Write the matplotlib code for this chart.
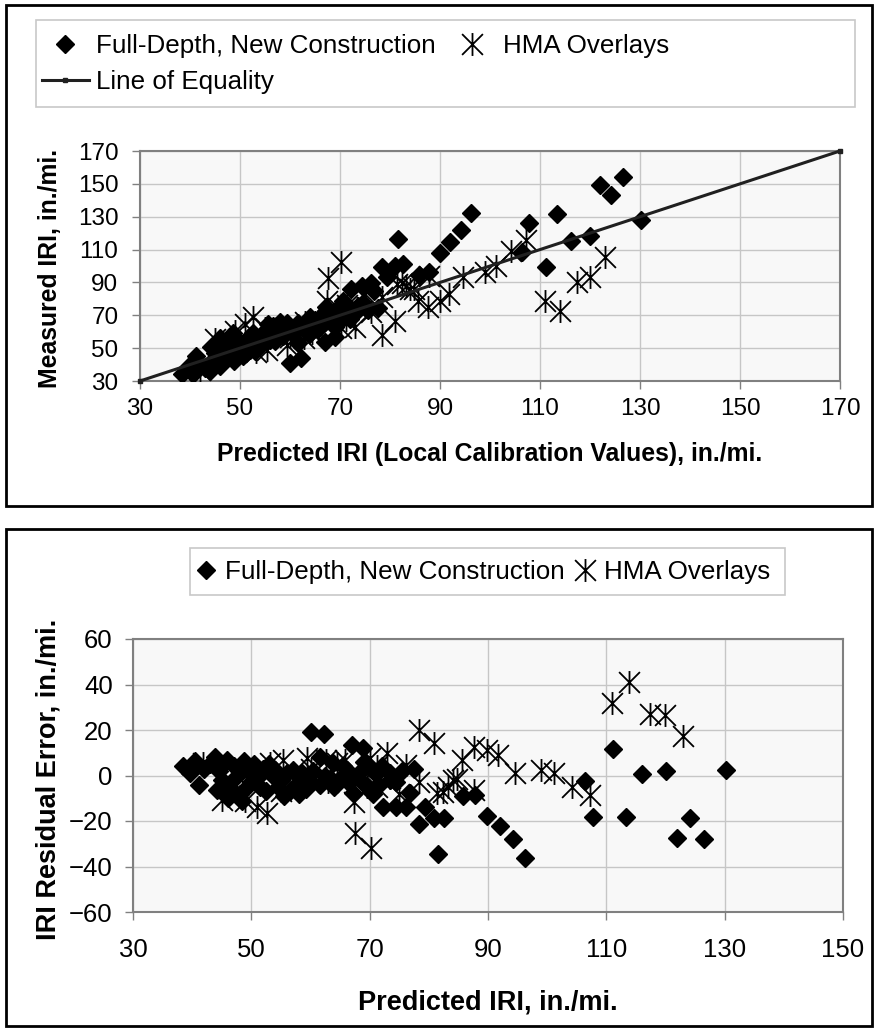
import numpy as np
import matplotlib
matplotlib.use("Agg")
import matplotlib.pyplot as plt
from matplotlib.path import Path
from matplotlib.patches import Rectangle

plt.rcParams["font.family"] = ["Liberation Sans", "DejaVu Sans"]

# Full-depth, new construction sections: predicted and measured IRI (in./mi.)
fd_pred = [130.2, 126.5, 122.0, 124.2, 120.0, 116.1, 113.4, 111.2, 107.7, 106.4,
           96.2, 94.2, 92.0, 89.9, 87.8, 85.7, 81.6, 78.4, 80.9, 82.5,
           79.3, 76.1, 74.4, 72.2, 76.8, 73.5, 73.4, 62.2, 60.0, 67.0,
           68.9, 66.1, 67.2, 69.5, 70.5, 63.8, 61.6, 71.0, 72.0, 70.0,
           69.0, 65.0, 64.0, 61.6, 59.3, 57.6, 58.5, 60.5, 62.5, 63.5,
           66.5, 68.0, 56.6, 55.5, 54.5, 53.7, 55.0, 56.0, 57.0, 38.4,
           39.6, 40.5, 41.2, 42.0, 43.0, 43.9, 44.5, 45.0, 45.9, 46.5,
           47.0, 47.5, 48.0, 48.7, 48.5, 49.5, 50.0, 50.5, 51.0, 51.5,
           52.0, 52.5, 46.0, 44.2, 49.0, 53.0, 54.0, 74.5, 75.5, 77.5,
           71.5, 68.5, 65.5, 58.0, 60.0]
fd_meas = [127.7, 154.3, 149.5, 143.0, 118.0, 115.3, 131.6, 99.4, 125.9, 108.6,
           132.5, 122.0, 114.4, 107.8, 96.5, 94.5, 116.2, 99.6, 99.8, 101.3,
           93.1, 89.8, 88.1, 86.0, 84.6, 75.5, 72.4, 43.8, 40.8, 53.6,
           56.9, 63.7, 75.0, 74.5, 78.5, 58.5, 53.4, 70.5, 68.0, 66.5,
           63.0, 67.0, 69.0, 65.6, 65.3, 61.6, 57.5, 58.5, 62.5, 65.0,
           70.0, 69.0, 63.6, 64.5, 59.5, 53.7, 57.0, 55.0, 54.5, 34.1,
           38.5, 34.0, 45.4, 39.0, 38.0, 35.9, 42.5, 47.0, 38.9, 52.5,
           43.0, 47.5, 56.0, 42.2, 59.5, 47.5, 53.0, 45.5, 52.0, 56.4,
           49.0, 59.5, 56.0, 50.7, 55.0, 48.0, 51.5, 77.5, 73.5, 74.5,
           75.5, 66.5, 61.5, 66.0, 63.0]

# HMA overlay sections: predicted and measured IRI (in./mi.)
hma_pred = [113.9, 111.0, 117.3, 119.9, 122.9, 107.2, 104.2, 101.2, 98.9, 94.6,
            91.7, 89.9, 87.6, 85.6, 87.7, 84.8, 83.2, 81.3, 82.4, 84.0,
            80.9, 78.3, 76.1, 78.4, 72.9, 73.4, 71.3, 71.2, 70.1, 67.3,
            67.5, 70.2, 65.8, 64.4, 62.7, 59.4, 55.4, 53.2, 52.6, 50.9,
            48.9, 45.0, 41.9, 46.5, 47.0, 60.0, 57.0, 55.0, 63.0, 68.5,
            69.5, 75.0]
hma_meas = [72.7, 79.0, 90.3, 93.4, 105.6, 115.8, 109.2, 100.0, 96.3, 93.6,
            82.9, 78.7, 74.9, 78.8, 94.1, 86.3, 88.1, 89.1, 89.5, 86.0,
            66.7, 58.3, 71.7, 81.1, 62.9, 74.4, 76.5, 67.2, 62.5, 78.8,
            92.9, 102.2, 59.0, 59.0, 55.9, 51.8, 48.6, 47.8, 69.0, 64.6,
            60.2, 55.8, 36.5, 50.5, 46.0, 57.0, 59.0, 62.0, 66.0, 69.5,
            74.5, 83.0]

equality = [30, 170]
top_ticks = [30, 50, 70, 90, 110, 130, 150, 170]
bot_xticks = [30, 50, 70, 90, 110, 130, 150]
bot_yticks = [-60, -40, -20, 0, 20, 40, 60]

# residual = predicted - measured
fd_res = np.array(fd_pred) - np.array(fd_meas)
hma_res = np.array(hma_pred) - np.array(hma_meas)

# Excel style "star" marker: X with a vertical bar
STAR = Path([(-1, -1), (1, 1), (-1, 1), (1, -1), (0, -1.1), (0, 1.1)],
            [Path.MOVETO, Path.LINETO, Path.MOVETO, Path.LINETO, Path.MOVETO, Path.LINETO])

W, H = 875, 1029
fig = plt.figure(figsize=(W / 100, H / 100), dpi=100)


def fx(px):
    return px / W


def fy(py):
    return 1 - py / H


def frame(x0, y0, x1, y1, color, lw):
    fig.add_artist(Rectangle((fx(x0), fy(y1)), (x1 - x0) / W, (y1 - y0) / H,
                             transform=fig.transFigure, fill=False,
                             edgecolor=color, linewidth=lw))


def style_axes(ax, size, xpad, ypad):
    ax.set_facecolor("#f8f8f8")
    ax.grid(True, color="#c6c6c6", linewidth=1.0)
    ax.set_axisbelow(True)
    for s in ax.spines.values():
        s.set_color("#808080")
        s.set_linewidth(1.5)
    ax.tick_params(direction="out", length=5.5, width=1.0, color="#808080",
                   labelsize=size)
    ax.tick_params(axis="x", pad=xpad)
    ax.tick_params(axis="y", pad=ypad)


def draw_points(ax, x_fd, y_fd, x_hma, y_hma):
    ax.plot(x_fd, y_fd, linestyle="none", marker="D", markersize=9.5,
            color="black", label="Full-Depth, New Construction", zorder=3)
    ax.plot(x_hma, y_hma, linestyle="none", marker=STAR, markersize=16.5,
            markerfacecolor="none", markeredgecolor="black", markeredgewidth=1.3,
            label="HMA Overlays", zorder=3)


# panel frames
frame(6, 5, 872, 506, "black", 2)
frame(6, 529, 872, 1026, "black", 2)

# top panel: measured vs predicted
ax1 = fig.add_axes([fx(140), fy(381), fx(700), 230 / H])
style_axes(ax1, 17.5, 7, 10)
draw_points(ax1, fd_pred, fd_meas, hma_pred, hma_meas)
ax1.plot(equality, equality, color="#202020", linewidth=2.2, marker="s", markersize=3,
         label="Line of Equality", zorder=4, clip_on=False)
ax1.set_xlim(30, 170)
ax1.set_ylim(30, 170)
ax1.set_xticks(top_ticks)
ax1.set_yticks(top_ticks)
ax1.set_xlabel("Predicted IRI (Local Calibration Values), in./mi.", fontsize=17.8,
               fontweight="bold")
ax1.set_ylabel("Measured IRI, in./mi.", fontsize=17.8, fontweight="bold")
ax1.xaxis.set_label_coords(0.5, (381 - 442) / 230)
ax1.yaxis.set_label_coords((62 - 140) / 700, 0.49)

h, l = ax1.get_legend_handles_labels()
order = [0, 2, 1]
frame(36, 20, 855, 107, "#c8c8c8", 1.2)
fig.legend([h[i] for i in order], [l[i] for i in order], ncol=2, loc="center left",
           bbox_to_anchor=(fx(42), fy(64)), fontsize=18.7, frameon=False,
           borderpad=0, handlelength=1.8, handletextpad=0.27,
           columnspacing=0.52, labelspacing=0.45, borderaxespad=0)

# bottom panel: residuals
ax2 = fig.add_axes([fx(133), fy(912), fx(710), 273 / H])
style_axes(ax2, 18.5, 13, 9)
draw_points(ax2, fd_pred, fd_res, hma_pred, hma_res)
ax2.set_xlim(30, 150)
ax2.set_ylim(-60, 60)
ax2.set_xticks(bot_xticks)
ax2.set_yticks(bot_yticks)
ax2.set_xlabel("Predicted IRI, in./mi.", fontsize=19.5, fontweight="bold")
ax2.set_ylabel("IRI Residual Error, in./mi.", fontsize=19.5, fontweight="bold")
ax2.xaxis.set_label_coords(0.5, (912 - 989) / 273)
ax2.yaxis.set_label_coords((62 - 133) / 710, 0.487)

h2, l2 = ax2.get_legend_handles_labels()
frame(190, 548, 785, 595, "#c8c8c8", 1.2)
fig.legend(h2, l2, ncol=2, loc="center left", bbox_to_anchor=(fx(196), fy(572)),
           fontsize=18.7, frameon=False, borderpad=0, handlelength=0.8,
           handletextpad=0.33, columnspacing=0.37, borderaxespad=0)

fig.savefig("out.png", dpi=100, facecolor="white")
